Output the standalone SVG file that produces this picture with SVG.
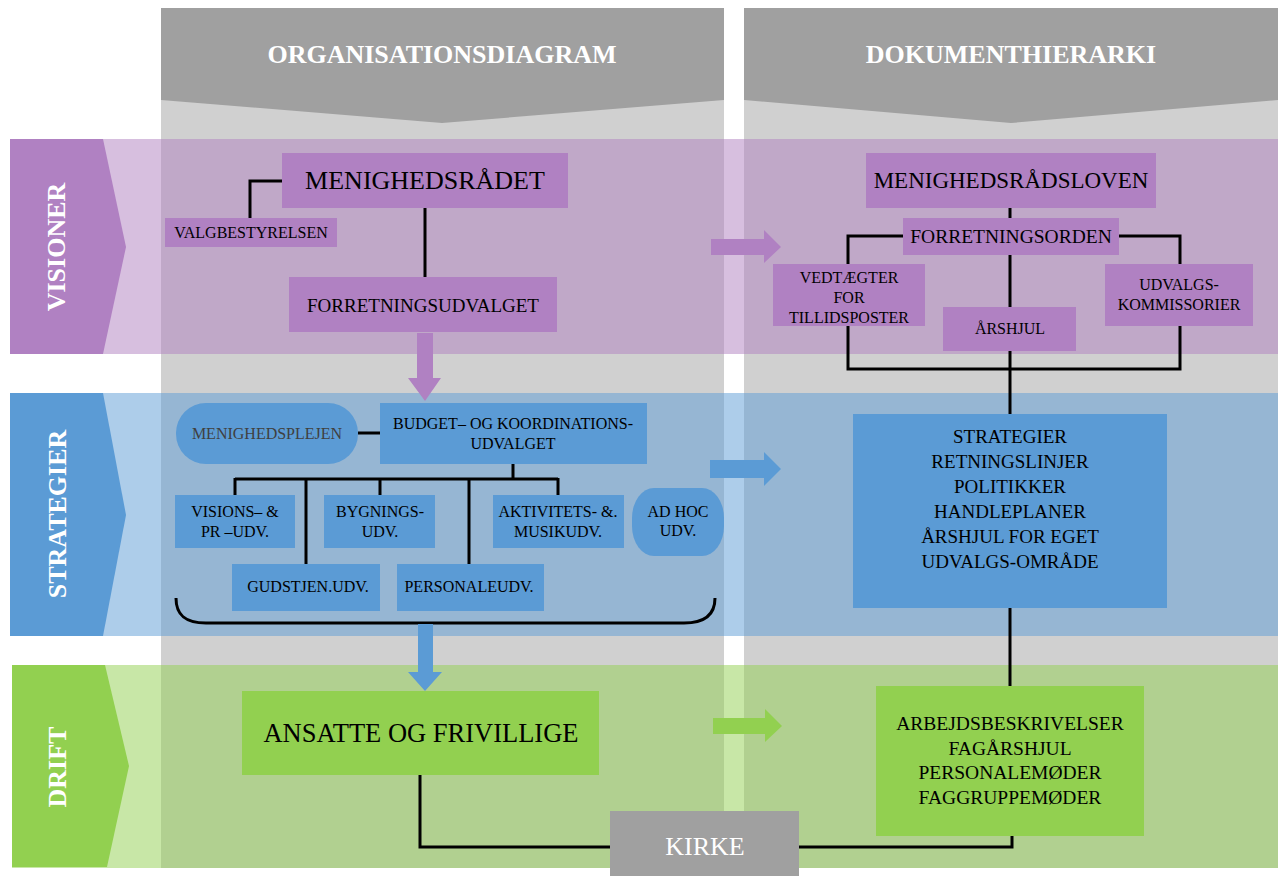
<svg xmlns="http://www.w3.org/2000/svg" width="1283" height="876" viewBox="0 0 1283 876">
<style>
text{font-family:"Liberation Serif","Times New Roman",serif;fill:#000;text-anchor:middle}
.hd{font-weight:bold;font-size:26px;fill:#fff}
.lbl{font-weight:bold;font-size:26px;fill:#fff}
.wt{fill:#fff}
.s16{font-size:16px}
.s19{font-size:19px}
.pu{fill:#b081c2}
.bl{fill:#5b9bd5}
.gr{fill:#92d050}
.gy{fill:#a0a0a0}
.con{fill:none;stroke:#000;stroke-width:3}
</style>
<rect width="1283" height="876" fill="#fff"/>
<g id="columns">
<rect x="161" y="8" width="563" height="860" fill="#d0d0d0"/>
<rect x="744" y="8" width="534" height="860" fill="#d0d0d0"/>
<polygon class="gy" points="161,8 724,8 724,100 442,123 161,100"/>
<polygon class="gy" points="744,8 1278,8 1278,100 1011,123 744,100"/>
<text class="hd" x="442" y="63">ORGANISATIONSDIAGRAM</text>
<text class="hd" x="1011" y="63">DOKUMENTHIERARKI</text>
</g>
<g id="bands">
<rect x="10" y="139" width="1268" height="215" fill="#b080c0" opacity="0.5"/>
<rect x="10" y="393" width="1268" height="243" fill="#5b9bd5" opacity="0.5"/>
<rect x="12" y="665" width="1266" height="203" fill="#92d050" opacity="0.5"/>
</g>
<g id="visioner-label">
<polygon class="pu" points="10,139 103,139 126,247 103,354 10,354"/>
<text class="lbl" transform="translate(65,247) rotate(-90)">VISIONER</text>
</g>
<g id="strategier-label">
<polygon class="bl" points="10,393 103,393 126,515 103,636 10,636"/>
<text class="lbl" transform="translate(66,514) rotate(-90)">STRATEGIER</text>
</g>
<g id="drift-label">
<polygon class="gr" points="12,665 105,665 129,766 107,867 12,867"/>
<text class="lbl" transform="translate(66,767) rotate(-90)">DRIFT</text>
</g>
<g id="connectors">
<path class="con" d="M282,181 H250 V218"/>
<path class="con" d="M425,208 V277"/>
<path class="con" d="M358,433 H380"/>
<path class="con" d="M513,464 V479 M235,479 H558 M235,478 V495 M306,478 V564 M380,478 V495 M469,478 V564 M558,478 V495"/>
<path class="con" d="M176,598 C176,614 184,623 206,623 L684,623 C706,623 715,614 715,598"/>
<path class="con" d="M1010,208 V218 M903,236 H848 V264 M1119,236 H1180 V264 M1010,254 V307 M848,325 V369 H1180 V326 M1010,350 V414 M1010,608 V686"/>
<path class="con" d="M420,775 V847 H610 M798,847 H1012 V835"/>
<polygon class="pu" points="417,333 433,333 433,378 441,378 425,401 408,378 417,378"/>
<polygon class="bl" points="418,624 433,624 433,672 442,672 425,691 408,672 418,672"/>
<polygon class="pu" points="711,239 764,239 764,230 781,247 764,263 764,255 711,255"/>
<polygon class="bl" points="710,460 764,460 764,452 781,469 764,486 764,478 710,478"/>
<polygon class="gr" points="713,718 765,718 765,709 782,726 765,742 765,734 713,734"/>
</g>
<g id="menighedsraadet"><rect class="pu" x="282" y="153" width="286" height="55"/><text x="425" y="189" font-size="26">MENIGHEDSRÅDET</text></g>
<g id="valgbestyrelsen"><rect class="pu" x="165" y="218" width="172" height="29"/><text class="s16" x="251" y="238">VALGBESTYRELSEN</text></g>
<g id="forretningsudvalget"><rect class="pu" x="289" y="277" width="268" height="55"/><text class="s19" x="423" y="312">FORRETNINGSUDVALGET</text></g>
<g id="menighedsplejen"><rect class="bl" x="176" y="403" width="182" height="61" rx="30" ry="30"/><text class="s16" x="267" y="439" style="fill:#404040">MENIGHEDSPLEJEN</text></g>
<g id="budget"><rect class="bl" x="380" y="403" width="267" height="61"/><text class="s16" x="513" y="429">BUDGET– OG KOORDINATIONS-</text><text class="s16" x="513" y="449">UDVALGET</text></g>
<g id="visions"><rect class="bl" x="175" y="495" width="120" height="53"/><text class="s16" x="235" y="517">VISIONS– &amp;</text><text class="s16" x="235" y="537">PR –UDV.</text></g>
<g id="bygnings"><rect class="bl" x="324" y="495" width="111" height="53"/><text class="s16" x="380" y="517">BYGNINGS-</text><text class="s16" x="380" y="537">UDV.</text></g>
<g id="aktivitets"><rect class="bl" x="493" y="495" width="131" height="53"/><text class="s16" x="558" y="517">AKTIVITETS- &amp;.</text><text class="s16" x="558" y="537">MUSIKUDV.</text></g>
<g id="adhoc"><rect class="bl" x="632" y="488" width="92" height="68" rx="22" ry="30"/><text class="s16" x="678" y="517">AD HOC</text><text class="s16" x="678" y="536">UDV.</text></g>
<g id="gudstjen"><rect class="bl" x="232" y="564" width="148" height="47"/><text class="s16" x="308" y="592">GUDSTJEN.UDV.</text></g>
<g id="personale"><rect class="bl" x="397" y="564" width="147" height="47"/><text class="s16" x="469" y="592">PERSONALEUDV.</text></g>
<g id="ansatte"><rect class="gr" x="242" y="691" width="357" height="84"/><text x="421" y="742" font-size="26.5">ANSATTE OG FRIVILLIGE</text></g>
<g id="kirke"><rect class="gy" x="610" y="811" width="189" height="65"/><text class="wt" x="705" y="855" font-size="26">KIRKE</text></g>
<g id="menighedsraadsloven"><rect class="pu" x="866" y="153" width="290" height="55"/><text x="1011" y="188" font-size="23">MENIGHEDSRÅDSLOVEN</text></g>
<g id="forretningsorden"><rect class="pu" x="903" y="218" width="216" height="37"/><text x="1011" y="243" font-size="19.5">FORRETNINGSORDEN</text></g>
<g id="vedtaegter"><rect class="pu" x="773" y="264" width="152" height="62"/><text class="s16" x="849" y="283">VEDTÆGTER</text><text class="s16" x="849" y="303">FOR</text><text class="s16" x="849" y="323">TILLIDSPOSTER</text></g>
<g id="aarshjul"><rect class="pu" x="943" y="307" width="133" height="44"/><text class="s16" x="1010" y="334">ÅRSHJUL</text></g>
<g id="udvalgs"><rect class="pu" x="1105" y="264" width="148" height="62"/><text class="s16" x="1179" y="290">UDVALGS-</text><text class="s16" x="1179" y="310">KOMMISSORIER</text></g>
<g id="strategier-doc"><rect class="bl" x="853" y="414" width="314" height="194"/>
<text x="1010" y="443" font-size="19">STRATEGIER</text><text x="1010" y="468" font-size="19">RETNINGSLINJER</text><text x="1010" y="493" font-size="19">POLITIKKER</text><text x="1010" y="518" font-size="19">HANDLEPLANER</text><text x="1010" y="543" font-size="19">ÅRSHJUL FOR EGET</text><text x="1010" y="568" font-size="19">UDVALGS-OMRÅDE</text></g>
<g id="drift-doc"><rect class="gr" x="876" y="686" width="268" height="150"/>
<text x="1010" y="730" font-size="19.5">ARBEJDSBESKRIVELSER</text><text x="1010" y="755" font-size="19.5">FAGÅRSHJUL</text><text x="1010" y="779" font-size="19.5">PERSONALEMØDER</text><text x="1010" y="804" font-size="19.5">FAGGRUPPEMØDER</text></g>
</svg>
